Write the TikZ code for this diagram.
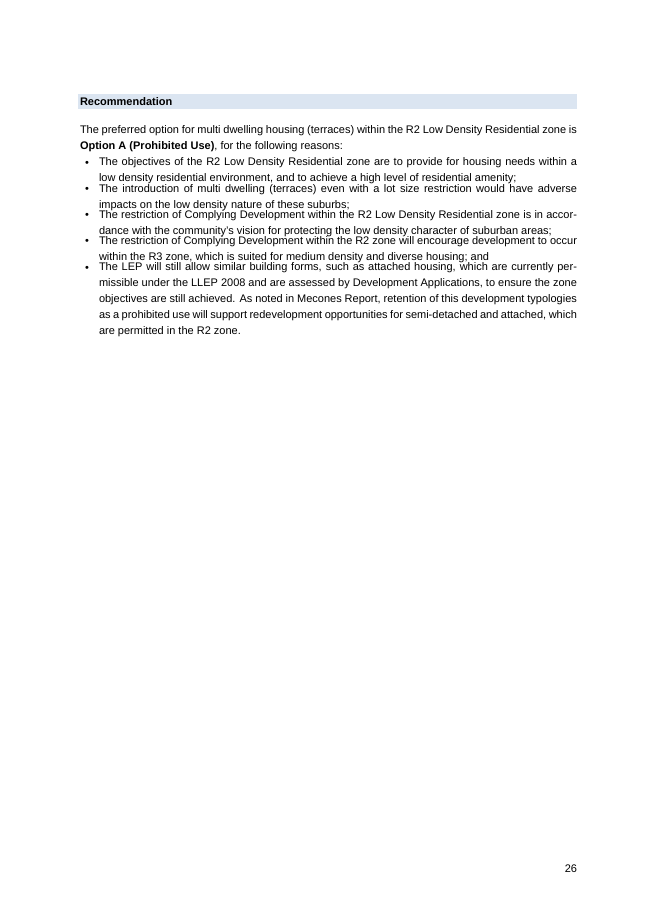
\documentclass[tikz,border=0pt]{standalone}
\usepackage{fontspec}
\setmainfont{Liberation Sans}
\usetikzlibrary{positioning}
\definecolor{headblue}{RGB}{219,229,241}

\begin{document}
\begin{tikzpicture}[
        x=1pt, y=-1pt,
        every node/.style={inner sep=0pt, outer sep=0pt},
        para/.style={anchor=north west, text width=497pt, align=justify,
            font=\fontsize{11}{16}\selectfont},
        item/.style={anchor=north west, text width=478pt, align=justify,
            font=\fontsize{11}{16}\selectfont},
        dot/.style={anchor=base, font=\fontsize{11}{16}\selectfont},
    ]
    \useasboundingbox (0,0) rectangle (653,924);

        % Heading band
        \fill[headblue] (78,94) rectangle (577,108.5);
        \node[anchor=base west, font=\fontsize{11}{13}\selectfont\bfseries] (head) at (80,105) {Recommendation};

        % Introductory paragraph
        \node[para] (intro) at (80,126) {The preferred option for multi dwelling housing (terraces) within the R2 Low Density Residential zone is \textbf{Option A (Prohibited Use)}, for the following reasons:};

        % Bullet points
        \node[item] (b1) at (99,158) {The objectives of the R2 Low Density Residential zone are to provide for housing needs within a low density residential environment, and to achieve a high level of residential amenity;};
        \node[item, below=0pt of b1.south west, anchor=north west] (b2) {The introduction of multi dwelling (terraces) even with a lot size restriction would have adverse impacts on the low density nature of these suburbs;};
        \node[item, below=0pt of b2.south west, anchor=north west] (b3) {The restriction of Complying Development within the R2 Low Density Residential zone is in accordance with the community’s vision for protecting the low density character of suburban areas;};
        \node[item, below=0pt of b3.south west, anchor=north west] (b4) {The restriction of Complying Development within the R2 zone will encourage development to occur within the R3 zone, which is suited for medium density and diverse housing; and};
        \node[item, below=0pt of b4.south west, anchor=north west] (b5) {The LEP will still allow similar building forms, such as attached housing, which are currently permissible under the LLEP 2008 and are assessed by Development Applications, to ensure the zone objectives are still achieved. As noted in Mecones Report, retention of this development typologies as a prohibited use will support redevelopment opportunities for semi-detached and attached, which are permitted in the R2 zone.};

        \foreach \b in {1,...,5}
            \node[dot] at ([xshift=-12pt, yshift=-8pt]b\b.north west) {•};

        % Page number
        \node[anchor=base east, font=\fontsize{11}{13}\selectfont] (pagenum) at (577,872) {26};
    \end{tikzpicture}
\end{document}
